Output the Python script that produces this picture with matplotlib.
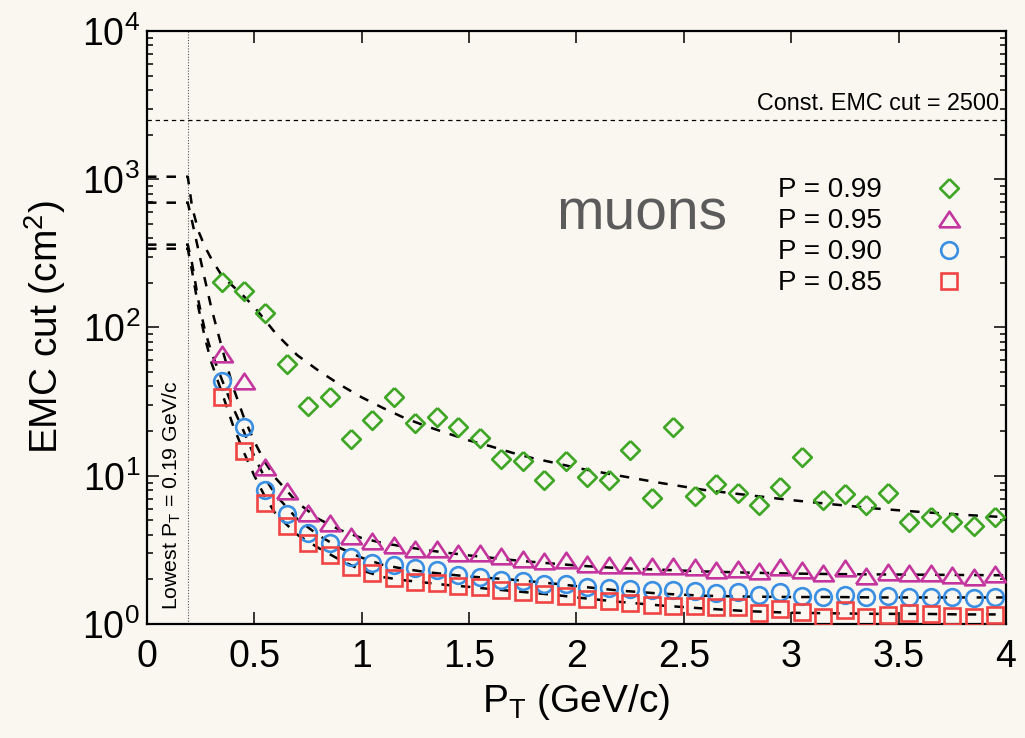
import matplotlib.pyplot as plt
from matplotlib.ticker import FixedLocator, NullLocator, LogLocator, NullFormatter

plt.rcParams['font.family'] = ['Liberation Sans', 'DejaVu Sans']
plt.rcParams['mathtext.fontset'] = 'custom'
plt.rcParams['mathtext.rm'] = 'Liberation Sans'
plt.rcParams['mathtext.it'] = 'Liberation Sans:italic'
plt.rcParams['mathtext.default'] = 'regular'

# bin centres in pT (GeV/c)
pt = [0.35, 0.45, 0.55, 0.65, 0.75, 0.85, 0.95, 1.05, 1.15, 1.25,
      1.35, 1.45, 1.55, 1.65, 1.75, 1.85, 1.95, 2.05, 2.15, 2.25,
      2.35, 2.45, 2.55, 2.65, 2.75, 2.85, 2.95, 3.05, 3.15, 3.25,
      3.35, 3.45, 3.55, 3.65, 3.75, 3.85, 3.95]

cut_p99 = [204, 176, 125, 56.5, 29.5, 34.1, 17.6, 23.9, 34.1, 22.8,
           24.8, 21.2, 18.0, 12.9, 12.6, 9.3, 12.6, 9.8, 9.3, 14.8,
           7.05, 21.4, 7.3, 8.8, 7.6, 6.3, 8.4, 13.4, 6.9, 7.5,
           6.3, 7.7, 4.9, 5.25, 4.9, 4.6, 5.25]
cut_p95 = [66, 43.5, 11.5, 7.9, 5.6, 4.8, 3.95, 3.65, 3.41, 3.19,
           3.20, 3.0, 3.0, 2.87, 2.76, 2.67, 2.70, 2.53, 2.50, 2.50,
           2.47, 2.46, 2.41, 2.31, 2.34, 2.29, 2.41, 2.31, 2.20, 2.40,
           2.11, 2.25, 2.22, 2.22, 2.14, 2.07, 2.17]
cut_p90 = [43.8, 21.2, 8.0, 5.5, 4.1, 3.54, 2.82, 2.59, 2.50, 2.37,
           2.31, 2.14, 2.08, 1.98, 1.95, 1.86, 1.86, 1.78, 1.76, 1.72,
           1.69, 1.69, 1.67, 1.63, 1.65, 1.57, 1.65, 1.55, 1.51, 1.57,
           1.51, 1.55, 1.53, 1.53, 1.51, 1.49, 1.53]
cut_p85 = [34.1, 14.7, 6.5, 4.6, 3.5, 2.92, 2.44, 2.20, 2.03, 1.93,
           1.88, 1.79, 1.77, 1.69, 1.65, 1.59, 1.55, 1.48, 1.43, 1.38,
           1.34, 1.32, 1.32, 1.30, 1.30, 1.19, 1.26, 1.21, 1.11, 1.24,
           1.12, 1.15, 1.18, 1.17, 1.13, 1.11, 1.15]

# fitted curves
fit_x = [0.19, 0.21, 0.24, 0.27, 0.30, 0.35, 0.40, 0.45, 0.50, 0.55,
         0.60, 0.70, 0.80, 0.90, 1.0, 1.1, 1.2, 1.3, 1.4, 1.5,
         1.6, 1.7, 1.8, 1.9, 2.0, 2.2, 2.4, 2.6, 2.8, 3.0,
         3.2, 3.4, 3.6, 3.8, 4.0]
fit_p99 = [1040, 650, 445, 350, 290, 222, 190, 163, 137, 112,
           91, 65, 51, 41, 33.8, 28.6, 24.5, 21.6, 19.3, 17.3,
           15.8, 14.3, 13.1, 12.2, 11.3, 10.0, 8.9, 8.0, 7.4, 6.85,
           6.4, 6.0, 5.7, 5.45, 5.25]
fit_p95 = [695, 520, 330, 210, 135, 72, 40, 25, 17, 12.3,
           9.6, 6.6, 5.1, 4.3, 3.8, 3.51, 3.32, 3.15, 3.02, 2.9,
           2.8, 2.7, 2.62, 2.55, 2.48, 2.38, 2.32, 2.26, 2.22, 2.19,
           2.17, 2.16, 2.15, 2.14, 2.13]
fit_p90 = [362, 270, 150, 95, 68, 44, 29, 20, 13.5, 9.6,
           7.4, 5.1, 3.95, 3.25, 2.8, 2.5, 2.35, 2.24, 2.16, 2.09,
           2.04, 1.99, 1.93, 1.87, 1.80, 1.68, 1.60, 1.55, 1.53, 1.52,
           1.52, 1.51, 1.51, 1.51, 1.51]
fit_p85 = [340, 240, 135, 85, 58, 36, 22, 14.5, 10, 7.2,
           5.5, 4.0, 3.25, 2.7, 2.3, 2.07, 1.97, 1.9, 1.83, 1.78,
           1.72, 1.67, 1.62, 1.57, 1.51, 1.41, 1.33, 1.27, 1.22, 1.19,
           1.18, 1.17, 1.17, 1.16, 1.16]

const_cut = 2500
lowest_pt = 0.19

labels = ["P = 0.99", "P = 0.95", "P = 0.90", "P = 0.85"]
colors = ["#3fa524", "#c4369e", "#3a8fe3", "#f04444"]
xticks = [0, 0.5, 1, 1.5, 2, 2.5, 3, 3.5, 4]
xticklabels = ["0", "0.5", "1", "1.5", "2", "2.5", "3", "3.5", "4"]

bg = "#f9f7f0"
diamond = [(0, 1), (1, 0), (0, -1), (-1, 0), (0, 1)]
triangle = [(-1, -0.75), (1, -0.75), (0, 0.75), (-1, -0.75)]

fig = plt.figure(figsize=(10.25, 7.38), dpi=100, facecolor=bg)
ax = fig.add_axes([0.1434, 0.1545, 0.838, 0.8035])
ax.set_facecolor(bg)

# fit curves, flat below the lowest pT
for fit in [fit_p99, fit_p95, fit_p90, fit_p85]:
    ax.plot([0] + fit_x, [fit[0]] + fit, color="black", lw=1.8,
            dashes=(3.8, 4.0), zorder=3)

ax.axhline(const_cut, color="black", lw=0.9, dashes=(3.5, 3))
ax.axvline(lowest_pt, color="#555555", lw=0.8, ls=(0, (1, 1.5)))

series = [cut_p99, cut_p95, cut_p90, cut_p85]
markers = [diamond, triangle, "o", "s"]
sizes = [13.5, 15, 12, 11.5]
for y, m, s, c, lab in zip(series, markers, sizes, colors, labels):
    ax.plot(pt, y, ls="none", marker=m, ms=s, mfc="none", mec=c,
            mew=1.9, label=lab, zorder=4)

ax.set_yscale("log")
ax.set_xlim(0, 4)
ax.set_ylim(1, 1e4)

ax.xaxis.set_major_locator(FixedLocator(xticks))
ax.set_xticklabels(xticklabels)
ax.xaxis.set_minor_locator(NullLocator())
ax.yaxis.set_major_locator(LogLocator(base=10, numticks=10))
ax.yaxis.set_minor_locator(LogLocator(base=10, subs=range(2, 10), numticks=20))
ax.yaxis.set_minor_formatter(NullFormatter())

ax.tick_params(which="both", direction="in", top=True, right=True, width=1.1)
ax.tick_params(which="major", length=8.5)
ax.tick_params(which="minor", length=4.3)
ax.tick_params(axis="x", labelsize=27, pad=11)
ax.tick_params(axis="y", labelsize=27, pad=5)
for sp in ax.spines.values():
    sp.set_linewidth(1.6)

ax.set_xlabel("$\\mathregular{P_T}$ (GeV/c)", fontsize=28, labelpad=5)
ax.set_ylabel("EMC cut (cm$^{2}$)", fontsize=28, labelpad=10)

ax.text(0.576, 0.69, "muons", transform=ax.transAxes, fontsize=41,
        color="#5b5b5b", ha="center", va="center")
ax.text(3.97, const_cut * 1.08, "Const. EMC cut = 2500", fontsize=16.8,
        ha="right", va="bottom")
ax.text(0.029, 0.216, "Lowest $\\mathregular{P_T}$ = 0.19 GeV/c",
        transform=ax.transAxes, fontsize=15.3, rotation=90,
        ha="center", va="center")

ax.legend(loc="upper left", bbox_to_anchor=(0.7346, 0.753), frameon=False,
          markerfirst=False, fontsize=20, handlelength=0.8,
          handletextpad=2.0, labelspacing=0.18, borderpad=0,
          borderaxespad=0)

fig.savefig("out.png", dpi=100, facecolor=bg)
